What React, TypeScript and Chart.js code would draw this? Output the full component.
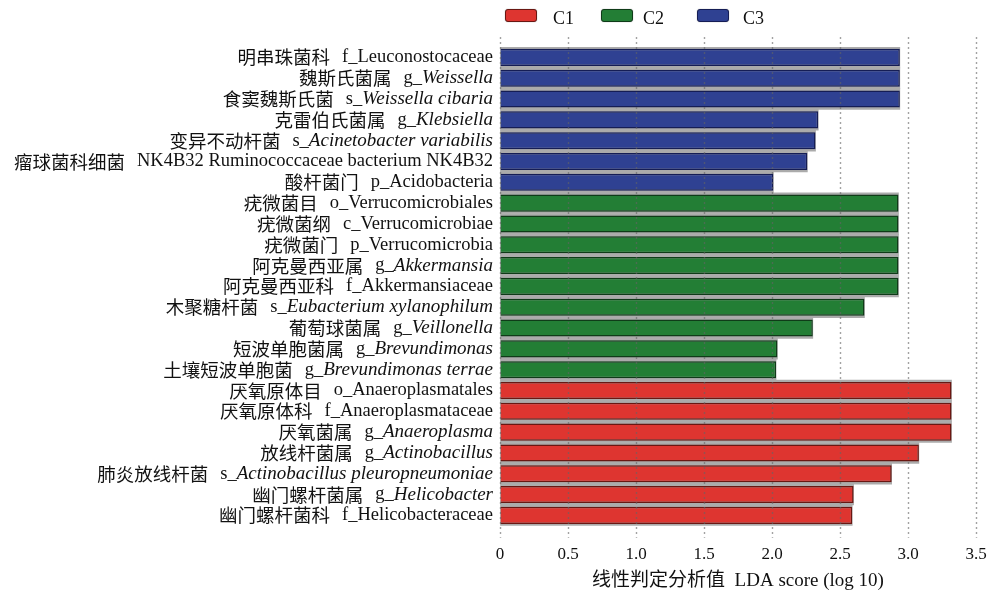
import React, { useEffect, useRef } from 'react';
import { Chart, registerables } from 'chart.js';

Chart.register(...registerables);

// Taxon names: Chinese name, plain Latin prefix, italic Latin part
const cnNames = [
  '明串珠菌科', '魏斯氏菌属', '食窦魏斯氏菌', '克雷伯氏菌属', '变异不动杆菌', '瘤球菌科细菌', '酸杆菌门',
  '疣微菌目', '疣微菌纲', '疣微菌门', '阿克曼西亚属', '阿克曼西亚科', '木聚糖杆菌', '葡萄球菌属', '短波单胞菌属', '土壤短波单胞菌',
  '厌氧原体目', '厌氧原体科', '厌氧菌属', '放线杆菌属', '肺炎放线杆菌', '幽门螺杆菌属', '幽门螺杆菌科',
];
const latinPlain = [
  'f_Leuconostocaceae', 'g_', 's_', 'g_', 's_', 'NK4B32 Ruminococcaceae bacterium NK4B32', 'p_Acidobacteria',
  'o_Verrucomicrobiales', 'c_Verrucomicrobiae', 'p_Verrucomicrobia', 'g_', 'f_Akkermansiaceae', 's_', 'g_', 'g_', 'g_',
  'o_Anaeroplasmatales', 'f_Anaeroplasmataceae', 'g_', 'g_', 's_', 'g_', 'f_Helicobacteraceae',
];
const latinItalic = [
  '', 'Weissella', 'Weissella cibaria', 'Klebsiella', 'Acinetobacter variabilis', '', '',
  '', '', '', 'Akkermansia', '', 'Eubacterium xylanophilum', 'Veillonella', 'Brevundimonas', 'Brevundimonas terrae',
  '', '', 'Anaeroplasma', 'Actinobacillus', 'Actinobacillus pleuropneumoniae', 'Helicobacter', '',
];
const ldaScores = [
  2.94, 2.94, 2.94, 2.34, 2.32, 2.26, 2.01,
  2.93, 2.93, 2.93, 2.93, 2.93, 2.68, 2.30, 2.04, 2.03,
  3.32, 3.32, 3.32, 3.08, 2.88, 2.60, 2.59,
];
const taxonGroup = [
  'C3', 'C3', 'C3', 'C3', 'C3', 'C3', 'C3',
  'C2', 'C2', 'C2', 'C2', 'C2', 'C2', 'C2', 'C2', 'C2',
  'C1', 'C1', 'C1', 'C1', 'C1', 'C1', 'C1',
];
const groupNames = ['C1', 'C2', 'C3'];
const groupFill = ['#DE3530', '#237E35', '#2F4192'];
const groupEdge = ['#6a1712', '#0f3b18', '#151d55'];

const xMin = 0;
const xMax = 3.5;
const xStep = 0.5;
const xTitle = '线性判定分析值  LDA score (log 10)';

const LATIN = '"Liberation Serif", "Times New Roman", serif';
const CJK = '"Noto Sans CJK SC", sans-serif';

const labels = cnNames.map((cn, i) => `${cn}  ${latinPlain[i]}${latinItalic[i]}`);
const fillOf = (g: string) => groupFill[groupNames.indexOf(g)];
const edgeOf = (g: string) => groupEdge[groupNames.indexOf(g)];

// dotted guide lines drawn over the bars
const dottedGrid = {
  id: 'dottedGrid',
  afterDatasetsDraw(chart: any) {
    const { ctx, chartArea } = chart;
    const xs = chart.scales.x;
    ctx.save();
    ctx.strokeStyle = 'rgba(100,100,100,0.6)';
    ctx.lineWidth = 1.4;
    ctx.setLineDash([2, 3]);
    xs.ticks.forEach((t: any) => {
      const x = Math.round(xs.getPixelForValue(t.value)) + 0.5;
      ctx.beginPath();
      ctx.moveTo(x, chartArea.top - 10);
      ctx.lineTo(x, chartArea.bottom + 12);
      ctx.stroke();
    });
    ctx.restore();
  },
};

// category labels with mixed Chinese / roman / italic runs
const taxonLabels = {
  id: 'taxonLabels',
  afterDraw(chart: any) {
    const { ctx, chartArea } = chart;
    const ys = chart.scales.y;
    ctx.save();
    ctx.fillStyle = '#111';
    ctx.textBaseline = 'middle';
    ctx.textAlign = 'right';
    cnNames.forEach((cn, i) => {
      const y = ys.getPixelForValue(i);
      let x = chartArea.left - 7;
      if (latinItalic[i]) {
        ctx.font = `italic 19px ${LATIN}`;
        ctx.fillText(latinItalic[i], x, y);
        x -= ctx.measureText(latinItalic[i]).width;
      }
      ctx.font = `18.5px ${LATIN}`;
      ctx.fillText(latinPlain[i], x, y);
      x -= ctx.measureText(latinPlain[i]).width + 12;
      ctx.font = `18.5px ${CJK}`;
      ctx.fillText(cn, x, y);
    });
    ctx.restore();
  },
};

export default function App() {
  const canvasRef = useRef<HTMLCanvasElement>(null);

  useEffect(() => {
    const canvas = canvasRef.current;
    if (!canvas) return;
    const chart = new Chart(canvas, {
      type: 'bar',
      data: {
        labels,
        datasets: [
          {
            label: 'LDA',
            data: ldaScores,
            backgroundColor: taxonGroup.map(fillOf),
            borderColor: taxonGroup.map(edgeOf),
            borderWidth: 1.5,
            barPercentage: 0.82,
            categoryPercentage: 1,
            grouped: false,
            order: 1,
          },
          {
            label: 'shade',
            data: ldaScores,
            backgroundColor: '#ababab',
            borderWidth: 0,
            barPercentage: 1,
            categoryPercentage: 1,
            grouped: false,
            order: 2,
          },
        ],
      },
      options: {
        indexAxis: 'y',
        responsive: false,
        animation: false,
        layout: { padding: { left: 500, right: 13, top: 47, bottom: 0 } },
        plugins: { legend: { display: false }, tooltip: { enabled: false } },
        scales: {
          y: { display: false },
          x: {
            type: 'linear',
            min: xMin,
            max: xMax,
            border: { display: false },
            grid: { display: true, drawOnChartArea: false, drawTicks: true, tickLength: 17, color: 'rgba(0,0,0,0)' },
            ticks: {
              stepSize: xStep,
              padding: 2,
              color: '#111',
              font: { family: LATIN, size: 17 },
              callback: (v: any) => (Number(v) === 0 ? '0' : Number(v).toFixed(1)),
            },
            title: {
              display: true,
              text: xTitle,
              color: '#111',
              font: { family: `${LATIN.split(',')[0]}, ${CJK}`, size: 19 },
              padding: { top: 2, bottom: 3 },
            },
          },
        },
      },
      plugins: [dottedGrid, taxonLabels],
    });
    return () => chart.destroy();
  }, []);

  const legendItems = [
    { name: groupNames[0], box: 505, text: 553 },
    { name: groupNames[1], box: 601, text: 643 },
    { name: groupNames[2], box: 697, text: 743 },
  ];

  return (
    <div style={{ position: 'absolute', left: 0, top: 0, width: 989, height: 595, background: '#fff' }}>
      <canvas ref={canvasRef} width={989} height={595} style={{ display: 'block' }} />
      {legendItems.map((it, i) => (
        <React.Fragment key={it.name}>
          <div
            style={{
              position: 'absolute', left: it.box, top: 9, width: 30, height: 11,
              background: groupFill[i], border: `1px solid ${groupEdge[i]}`, borderRadius: 3,
              boxShadow: '0 0 1px rgba(0,0,0,0.5)',
            }}
          />
          <div
            style={{
              position: 'absolute', left: it.text, top: 9, fontFamily: LATIN, fontSize: 18,
              lineHeight: '18px', color: '#111', whiteSpace: 'nowrap',
            }}
          >
            {it.name}
          </div>
        </React.Fragment>
      ))}
    </div>
  );
}
